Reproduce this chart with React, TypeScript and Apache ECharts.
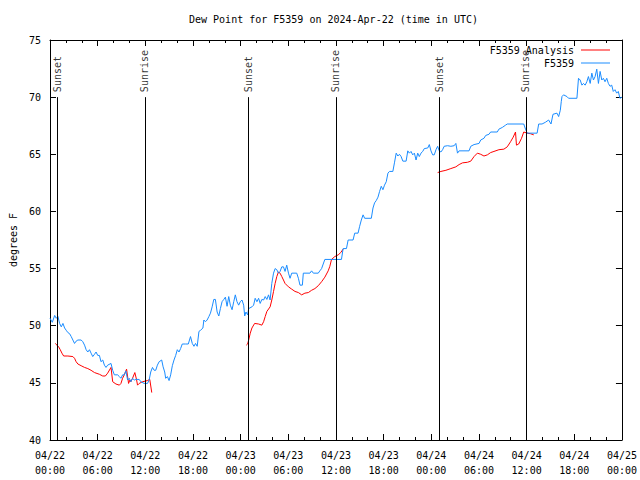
import React, { useEffect, useRef } from "react";
import * as echarts from "echarts";

const FONT = "'DejaVu Sans Mono', 'Liberation Mono', monospace";

// x values are hours since 2024-04-22 00:00 UTC
const xTickLabels = [
  "04/22\n00:00", "04/22\n06:00", "04/22\n12:00", "04/22\n18:00",
  "04/23\n00:00", "04/23\n06:00", "04/23\n12:00", "04/23\n18:00",
  "04/24\n00:00", "04/24\n06:00", "04/24\n12:00", "04/24\n18:00",
  "04/25\n00:00",
];

const sunHours = [0.91, 11.93, 25.0, 35.98, 49.0, 59.9];
const sunLabels = ["Sunset", "Sunrise", "Sunset", "Sunrise", "Sunset", "Sunrise"];

const analysis: [number, number | null][] = [
  [0.66, 48.45], [0.88, 48.3], [1.09, 48.15], [1.29, 47.9], [1.5, 47.6], [1.72, 47.35],
  [2.25, 47.35], [2.88, 47.3], [3.09, 47.15], [3.29, 46.85], [3.51, 46.65], [3.92, 46.5],
  [4.35, 46.35], [4.76, 46.25], [5.17, 46.1], [5.6, 45.9], [6.22, 45.75], [6.64, 45.6],
  [6.97, 45.6], [7.26, 45.85], [7.68, 46.35], [7.89, 45.1], [8.3, 44.9], [8.73, 44.8],
  [8.93, 44.95], [9.14, 45.4], [9.35, 45.7], [9.64, 46.2], [9.89, 44.95], [10.06, 45.25],
  [10.18, 45.1], [10.39, 45.4], [10.68, 45.9], [10.89, 45.3], [11.02, 44.8], [11.23, 44.95],
  [11.65, 45.1], [12.27, 45.2], [12.56, 45.3], [12.81, 44.15],
  [18.0, null],
  [24.71, 48.3], [24.88, 48.4], [25.01, 48.75], [25.21, 49.35], [25.42, 49.8], [25.76, 50.2],
  [26.26, 50.15], [26.67, 50.05], [26.89, 50.35], [27.09, 50.8], [27.3, 51.25], [27.71, 51.65],
  [27.92, 52.25], [28.14, 53.0], [28.34, 53.7], [28.55, 54.3], [28.76, 54.7], [28.96, 54.6],
  [29.18, 54.3], [29.39, 54.0], [29.59, 53.7], [30.02, 53.4], [30.43, 53.2], [30.84, 53.0],
  [31.27, 52.9], [31.68, 52.7], [32.09, 52.85], [32.52, 52.9], [32.93, 53.1], [33.35, 53.25],
  [33.77, 53.5], [34.19, 53.85], [34.6, 54.25], [35.02, 54.8], [35.23, 55.2], [35.44, 55.8],
  [35.85, 56.05], [36.28, 56.2], [36.6, 56.4], [36.9, 56.7],
  [42.0, null],
  [48.8, 63.4], [49.21, 63.5], [49.84, 63.6], [50.46, 63.75], [51.09, 63.9], [51.5, 64.1],
  [51.93, 64.25], [52.55, 64.3], [52.97, 64.4], [53.38, 64.8], [53.8, 65.1], [54.22, 65.0],
  [54.63, 64.85], [55.06, 64.95], [55.47, 65.15], [55.89, 65.25], [56.51, 65.4], [57.14, 65.45],
  [57.56, 65.65], [57.98, 66.1], [58.31, 66.5], [58.6, 66.95], [58.72, 65.8], [59.0, 65.9],
  [59.36, 66.4], [59.64, 66.95], [60.07, 66.85], [60.48, 66.8], [60.9, 66.7],
];

const observed: [number, number][] = [
  [0, 50.65], [0.29, 50.3], [0.59, 50.9], [0.79, 50.65], [1.0, 50.8], [1.21, 50.2], [1.42, 49.9],
  [1.63, 50.2], [1.84, 49.8], [2.04, 49.6], [2.25, 49.4], [2.47, 49.3], [2.67, 49.05], [2.88, 48.75],
  [3.09, 48.45], [3.29, 48.65], [3.51, 48.75], [3.92, 48.75], [4.13, 48.6], [4.35, 48.3], [4.55, 47.9],
  [4.76, 47.7], [4.97, 47.9], [5.17, 47.6], [5.38, 47.3], [5.6, 47.5], [5.8, 47.7], [6.01, 47.4],
  [6.22, 47.4], [6.42, 46.85], [6.64, 47.0], [6.85, 46.55], [7.05, 46.35], [7.26, 46.55], [7.68, 46.7],
  [7.89, 46.1], [8.1, 45.7], [8.51, 45.7], [8.73, 45.55], [8.93, 45.4], [9.14, 45.7], [9.35, 45.7],
  [9.55, 46.05], [9.77, 45.25], [9.98, 45.4], [10.18, 45.1], [10.39, 45.4], [10.61, 45.25], [10.81, 45.3],
  [11.23, 45.3], [11.43, 45.1], [11.86, 44.95], [12.27, 44.95], [12.48, 45.25], [12.68, 45.95], [12.9, 46.35],
  [13.11, 46.1], [13.31, 46.1], [13.52, 46.55], [13.74, 46.85], [14.06, 47.0], [14.24, 46.4], [14.44, 45.95],
  [14.56, 45.4], [14.78, 45.55], [14.99, 45.2], [15.19, 45.7], [15.4, 46.5], [15.61, 47.0], [15.82, 47.4],
  [16.03, 47.9], [16.24, 47.7], [16.44, 48.0], [16.65, 48.4], [17.07, 48.4], [17.41, 48.4], [17.69, 49.05],
  [17.91, 48.45], [18.12, 48.2], [18.32, 48.45], [18.53, 48.2], [18.75, 49.5], [18.95, 49.6], [19.25, 49.8],
  [19.37, 50.5], [19.57, 50.35], [19.78, 50.5], [20.0, 50.8], [20.2, 51.1], [20.41, 51.65], [20.62, 52.3],
  [20.82, 52.3], [21.04, 51.2], [21.25, 50.85], [21.45, 51.5], [21.66, 52.1], [21.88, 52.3], [22.08, 52.5],
  [22.29, 51.7], [22.5, 52.55], [22.7, 51.8], [22.92, 51.4], [23.13, 52.1], [23.33, 52.7], [23.54, 52.1],
  [23.75, 51.8], [23.95, 52.1], [24.17, 52.25], [24.38, 51.8], [24.51, 50.85], [24.67, 51.2], [24.88, 50.95],
  [25.01, 51.5], [25.42, 51.65], [25.63, 51.8], [25.83, 52.4], [26.05, 52.1], [26.26, 52.4], [26.46, 51.95],
  [26.67, 52.3], [26.89, 52.25], [27.09, 52.55], [27.3, 52.3], [27.51, 52.7], [27.71, 52.25], [27.92, 53.7],
  [28.14, 54.6], [28.34, 55.0], [28.55, 54.9], [28.76, 54.6], [28.96, 54.75], [29.18, 55.15], [29.39, 55.15],
  [29.59, 54.75], [29.8, 55.3], [30.02, 54.6], [30.22, 54.15], [30.43, 54.6], [31.06, 54.6], [31.27, 54.15],
  [31.47, 53.55], [31.77, 53.55], [31.89, 54.6], [32.72, 54.6], [32.93, 54.8], [33.15, 54.6], [33.77, 54.6],
  [33.97, 54.8], [34.19, 55.0], [34.6, 55.8], [36.69, 55.8], [36.9, 56.75], [37.32, 56.75], [37.53, 57.5],
  [38.15, 57.5], [38.36, 58.1], [38.78, 58.1], [38.98, 58.7], [39.19, 59.25], [39.41, 59.7], [39.61, 59.4],
  [40.45, 59.4], [40.66, 60.3], [40.86, 60.75], [41.07, 60.95], [41.29, 61.25], [41.49, 61.75], [41.7, 62.2],
  [41.91, 61.9], [42.11, 62.3], [42.33, 62.6], [42.54, 63.35], [42.74, 63.5], [43.16, 63.5], [43.36, 64.25],
  [43.58, 65.1], [43.79, 64.85], [43.99, 65.0], [44.2, 64.8], [44.42, 64.4], [44.83, 64.4], [45.04, 65.3],
  [45.24, 65.1], [45.45, 65.25], [45.66, 64.95], [45.87, 65.1], [46.08, 64.5], [46.29, 65.1], [46.49, 64.8],
  [46.7, 65.1], [46.92, 65.25], [47.12, 65.5], [47.55, 65.55], [47.75, 65.85], [47.96, 65.3], [48.17, 64.95],
  [48.37, 64.95], [48.59, 65.4], [48.8, 65.7], [49.0, 65.3], [49.21, 65.2], [49.42, 65.4], [49.62, 65.7],
  [50.05, 65.75], [50.46, 65.7], [50.88, 65.75], [51.09, 65.95], [51.3, 65.1], [51.5, 65.3], [52.75, 65.3],
  [52.97, 65.7], [53.38, 65.85], [54.01, 65.95], [54.22, 66.25], [54.63, 66.4], [54.85, 66.65], [55.26, 66.75],
  [55.47, 66.95], [56.31, 66.95], [56.51, 67.2], [56.94, 67.35], [57.35, 67.55], [57.56, 67.65], [59.64, 67.65],
  [59.86, 67.2], [60.07, 66.85], [61.32, 66.85], [61.52, 67.65], [61.94, 67.65], [62.36, 67.8], [62.77, 68.0],
  [63.07, 67.65], [63.32, 68.5], [63.82, 68.6], [64.03, 68.3], [64.24, 68.85], [64.36, 69.6], [64.45, 70.05],
  [64.65, 70.2], [65.08, 70.05], [65.28, 69.9], [66.33, 69.9], [66.53, 71.65], [66.74, 71.5], [66.96, 71.05],
  [67.16, 71.2], [67.37, 71.05], [67.58, 71.35], [67.78, 71.8], [68.0, 71.2], [68.21, 72.1], [68.41, 71.5],
  [68.62, 71.8], [68.83, 72.45], [69.04, 71.2], [69.25, 72.25], [69.46, 71.5], [69.66, 71.65], [69.87, 71.35],
  [70.09, 71.65], [70.29, 71.2], [70.5, 70.95], [70.71, 71.05], [70.91, 70.5], [71.12, 70.65], [71.34, 70.35],
  [71.54, 70.5], [71.75, 69.9], [72.0, 70.0],
];

const SUN_BOTTOM = 40;
const SUN_TOP = 70;

export default function App() {
  const ref = useRef<HTMLDivElement>(null);

  useEffect(() => {
    if (!ref.current) return;
    const chart = echarts.init(ref.current, null, { renderer: "svg" });
    const txt = { fontFamily: FONT, fontSize: 10, color: "#000" };
    const axisLine = { show: true, onZero: false, lineStyle: { color: "#000", width: 1 } };
    const xCommon = {
      type: "value",
      min: 0,
      max: 72,
      interval: 6,
      axisLine,
      axisTick: { show: true, inside: true, length: 6, lineStyle: { color: "#000", width: 1 } },
      minorTick: { show: true, splitNumber: 3, length: 3, lineStyle: { color: "#000", width: 1 } },
      splitLine: { show: false },
    };
    const yCommon = {
      type: "value",
      min: 40,
      max: 75,
      interval: 5,
      axisLine,
      axisTick: { show: true, inside: true, length: 6, lineStyle: { color: "#000", width: 1 } },
      splitLine: { show: false },
    };
    const legendCommon = {
      right: 30,
      orient: "horizontal",
      align: "right",
      icon: "rect",
      itemWidth: 29,
      itemHeight: 1,
      padding: 0,
      selectedMode: false,
      textStyle: { ...txt, lineHeight: 12, padding: [0, 2, 0, 0] },
    };
    chart.setOption({
      animation: false,
      backgroundColor: "#fff",
      title: {
        text: "Dew Point for F5359 on 2024-Apr-22 (time in UTC)",
        left: 189,
        top: 14,
        padding: 0,
        textStyle: { ...txt, fontWeight: "normal" },
      },
      grid: { left: 47, right: 18, top: 40, bottom: 40, containLabel: false },
      legend: [
        { ...legendCommon, top: 44, data: ["F5359 Analysis"] },
        { ...legendCommon, top: 57, data: ["F5359"] },
      ],
      xAxis: [
        {
          ...xCommon,
          position: "bottom",
          axisLabel: {
            ...txt,
            lineHeight: 15,
            margin: 8,
            formatter: (v: number) => xTickLabels[Math.round(v / 6)] ?? "",
          },
        },
        { ...xCommon, position: "top", axisLabel: { show: false } },
      ],
      yAxis: [
        {
          ...yCommon,
          position: "left",
          name: "degrees F",
          nameLocation: "middle",
          nameGap: 32,
          nameRotate: 90,
          nameTextStyle: { ...txt },
          axisLabel: { ...txt, margin: 9 },
        },
        { ...yCommon, position: "right", axisLabel: { show: false } },
      ],
      series: [
        {
          name: "sun",
          type: "scatter",
          xAxisIndex: 0,
          yAxisIndex: 0,
          symbolSize: 0,
          silent: true,
          data: sunHours.map((h, i) => ({ value: [h, SUN_TOP], name: sunLabels[i] })),
          label: {
            show: true,
            formatter: "{b}",
            rotate: 90,
            position: [0, -5],
            align: "left",
            verticalAlign: "middle",
            ...txt,
          },
          markLine: {
            silent: true,
            symbol: ["none", "none"],
            label: { show: false },
            lineStyle: { color: "#000", width: 1, type: "solid" },
            data: sunHours.map((h) => [{ coord: [h, SUN_BOTTOM] }, { coord: [h, SUN_TOP] }]),
          },
        },
        {
          name: "F5359 Analysis",
          type: "line",
          xAxisIndex: 0,
          yAxisIndex: 0,
          showSymbol: false,
          connectNulls: false,
          color: "#ff0000",
          lineStyle: { color: "#ff0000", width: 1 },
          data: analysis,
        },
        {
          name: "F5359",
          type: "line",
          xAxisIndex: 0,
          yAxisIndex: 0,
          showSymbol: false,
          color: "#1a8cff",
          lineStyle: { color: "#1a8cff", width: 1 },
          data: observed,
        },
      ],
    });
    return () => chart.dispose();
  }, []);

  return (
    <div
      ref={ref}
      style={{ position: "fixed", left: 0, top: 0, width: 640, height: 480, background: "#fff" }}
    />
  );
}
